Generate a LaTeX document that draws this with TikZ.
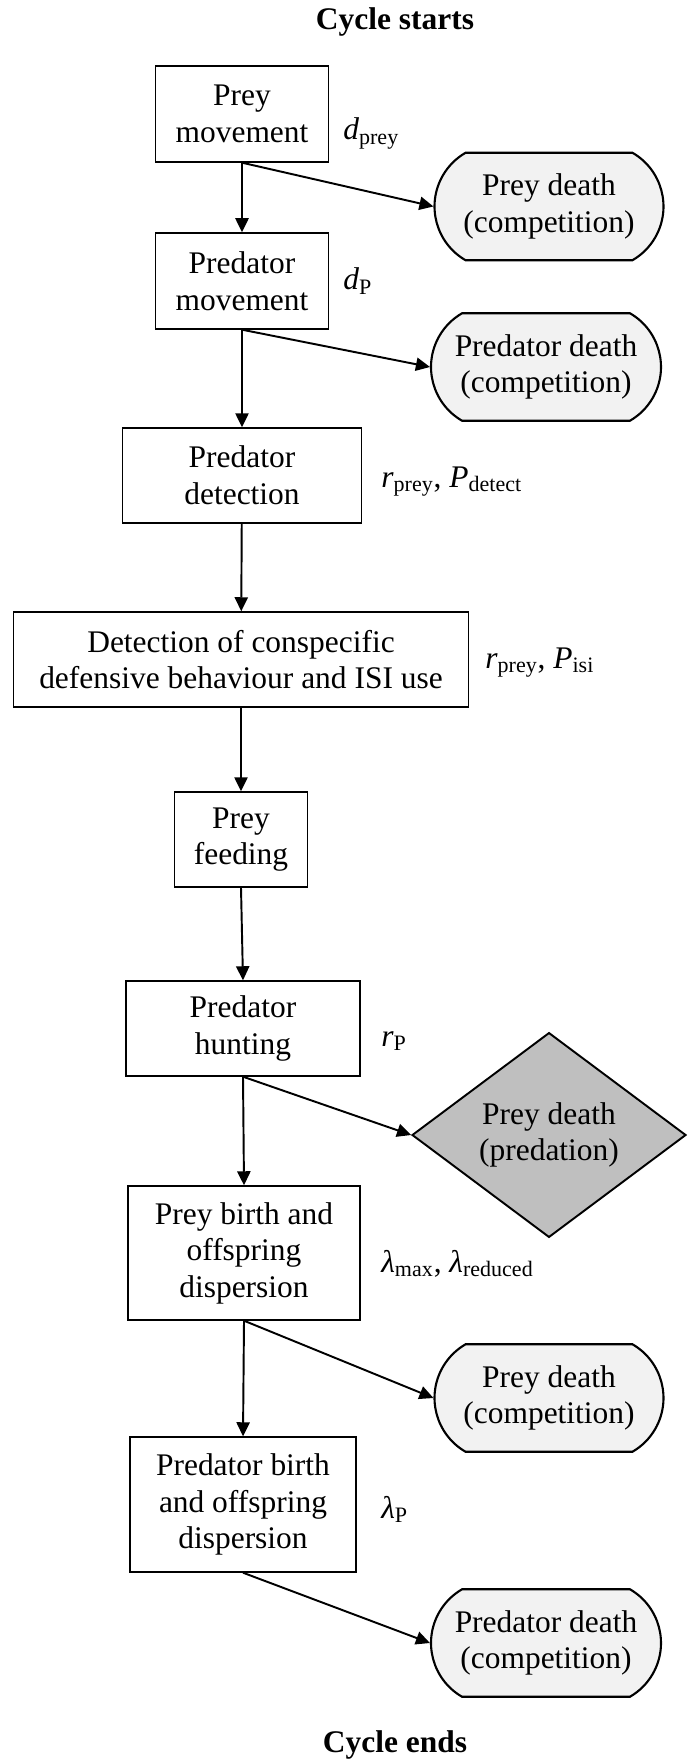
\documentclass[tikz,border=0pt]{standalone}
\usepackage{fontspec}
\setmainfont{Liberation Serif}
\usetikzlibrary{
  positioning,
  shapes.misc,
  shapes.geometric,
  arrows.meta
}

\newcommand{\parsym}[2]{\textit{#1}\textsubscript{#2}}

\begin{document}
\begin{tikzpicture}[
	x=0.02cm, y=-0.02cm,
	font=\fontsize{17.9}{20.8}\selectfont,
	stage/.style={draw, line width=0.8pt, align=center, inner sep=0pt, minimum height=1.9cm},
	death/.style={draw, line width=1.2pt, fill=black!5, rounded rectangle, rounded rectangle arc length=120,
		align=center, inner sep=0pt, minimum width=4.58cm, minimum height=2.15cm},
	kill/.style={draw, line width=1.1pt, fill=black!25, diamond, align=center, inner sep=0pt,
		minimum width=5.48cm, minimum height=3.12cm},
	flow/.style={line width=1.1pt, -{Triangle[length=8pt, width=7.5pt]}},
	param/.style={anchor=base west, inner sep=0pt}
]

	\useasboundingbox (0,0) rectangle (691,1763);

	% titles
	\node[font=\fontsize{17.9}{20.8}\selectfont\bfseries] (start) at (395,22) {Cycle starts};
	\node[font=\fontsize{17.9}{20.8}\selectfont\bfseries] (end) at (395,1745) {Cycle ends};

	% main steps
	\node[stage, minimum width=3.46cm, minimum height=1.92cm] (premove) at (242,114) {Prey\\movement};
	\node[stage, minimum width=3.46cm, minimum height=1.92cm] (predmove) at (242,281) {Predator\\movement};
	\node[stage, minimum width=4.78cm] (preddetect) at (242,475.5) {Predator\\detection};
	\node[stage, minimum width=9.1cm] (conspec) at (241,659.5) {Detection of conspecific\\defensive behaviour and ISI use};
	\node[stage, minimum width=2.66cm] (feeding) at (241,839.5) {Prey\\feeding};
	\node[stage, minimum width=4.68cm] (hunting) at (243,1028.5) {Predator\\hunting};
	\node[stage, minimum width=4.64cm, minimum height=2.68cm] (preybirth) at (244,1253) {Prey birth and\\offspring\\dispersion};
	\node[stage, minimum width=4.52cm, minimum height=2.7cm] (predbirth) at (243,1504.5) {Predator birth\\and offspring\\dispersion};

	% deaths
	\node[death] (preydeatha) at (549,206.5) {Prey death\\(competition)};
	\node[death, minimum width=4.6cm] (preddeatha) at (546,367) {Predator death\\(competition)};
	\node[kill] (predation) at (549,1135) {Prey death\\(predation)};
	\node[death] (preydeathb) at (549,1398) {Prey death\\(competition)};
	\node[death, minimum width=4.6cm] (preddeathb) at (546,1643) {Predator death\\(competition)};

	% parameters
	\node[param] (dprey) at (343,140) {\parsym{d}{prey}};
	\node[param] (dpred) at (343,290) {\parsym{d}{P}};
	\node[param] (rdetect) at (381,487) {\parsym{r}{prey}, \parsym{P}{detect}};
	\node[param] (risi) at (485,668) {\parsym{r}{prey}, \parsym{P}{isi}};
	\node[param] (rpred) at (381,1046) {\parsym{r}{P}};
	\node[param] (lprey) at (381,1272) {\parsym{λ}{max}, \parsym{λ}{reduced}};
	\node[param] (lpred) at (381,1518) {\parsym{λ}{P}};

	% flow down
	\draw[flow] (premove) -- (predmove);
	\draw[flow] (predmove) -- (preddetect);
	\draw[flow] (preddetect) -- (conspec);
	\draw[flow] (conspec.south -| feeding) -- (feeding);
	\draw[flow] (feeding.south) -- (hunting.north);
	\draw[flow] (hunting.south) -- (preybirth.north);
	\draw[flow] (preybirth.south) -- (predbirth.north);

	% side branches
	\draw[flow] (premove.south) -- (preydeatha.west);
	\draw[flow] (predmove.south) -- (preddeatha.west);
	\draw[flow] (hunting.south) -- (predation.west);
	\draw[flow] (preybirth.south) -- (preydeathb.west);
	\draw[flow] (predbirth.south) -- (preddeathb.west);

\end{tikzpicture}
\end{document}
